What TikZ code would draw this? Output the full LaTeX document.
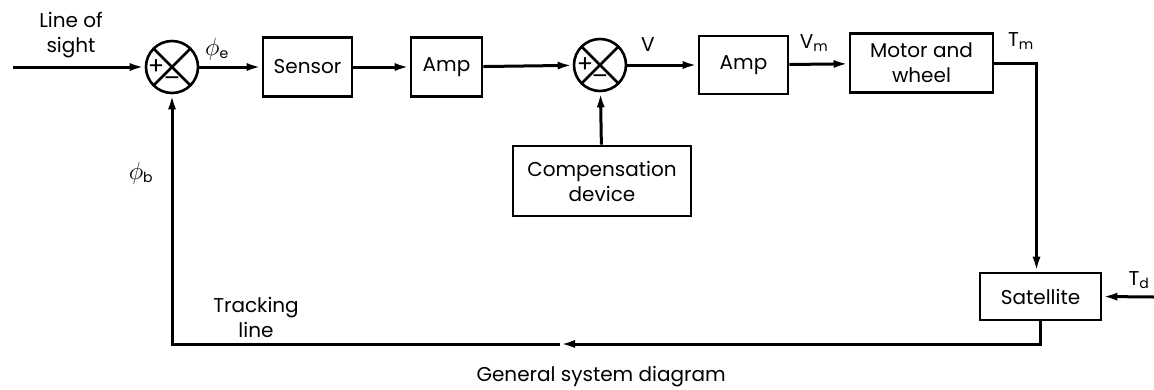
\documentclass[tikz,border=0pt]{standalone}
\usepackage{fontspec}
\setmainfont{Poppins}
\usetikzlibrary{arrows.meta}

\begin{document}
\begin{tikzpicture}[x=1pt,y=-1pt,font=\fontsize{20}{25}\selectfont,
  line width=3pt,
  blk/.style={draw,line width=2.6pt,minimum height=59pt,inner sep=0pt,align=center},
  sumpt/.style={draw,circle,line width=2.6pt,minimum size=52pt,inner sep=0pt,
    path picture={\draw[line width=2.6pt]
      (path picture bounding box.south west) -- (path picture bounding box.north east)
      (path picture bounding box.north west) -- (path picture bounding box.south east);}},
  sig/.style={-{Latex[length=15pt,width=8pt]}},
  lbl/.style={inner sep=0pt,align=center},
  sgn/.style={lbl,font=\fontsize{24}{24}\selectfont}]
  \useasboundingbox (0,0) rectangle (1154,389);

  % summing points
  \node[sumpt] (s1) at (172,67) {};
  \node[sgn] at ([xshift=-16pt]s1.center) {+};
  \node[sgn] at ([yshift=-15pt]s1.center) {--};
  \node[sumpt] (s2) at (600,65) {};
  \node[sgn] at ([xshift=-15pt]s2.center) {+};
  \node[sgn] at ([yshift=-15pt]s2.center) {--};

  % blocks
  \node[blk,minimum width=89pt] (sensor) at (307.5,67) {Sensor};
  \node[blk,minimum width=71pt] (amp1) at (446.5,67) {Amp};
  \node[blk,minimum width=89pt,minimum height=58pt] (amp2) at (743.5,65) {Amp};
  \node[blk,minimum width=143pt] (motor) at (921.5,63) {Motor and\\wheel};
  \node[blk,minimum width=178pt,minimum height=70pt] (comp) at (602,181) {Compensation\\device};
  \node[blk,minimum width=121pt,minimum height=47pt] (sat) at (1040.5,296.5) {Satellite};

  \coordinate (los) at (13,67);
  \coordinate (td) at (1154,297);
  \coordinate (fb) at (560,344);

  % signal lines
  \draw[sig] (los) -- (s1);
  \draw[sig] (s1) -- (sensor);
  \draw[sig] (sensor) -- (amp1);
  \draw[sig] (amp1) -- (s2);
  \draw[sig] (s2) -- (amp2);
  \draw[sig] (amp2) -- (motor);
  \draw[sig] (motor.east) -| ([xshift=-4pt]sat.north);
  \draw[sig] (td) -- (sat.east);
  \draw[sig] (comp) -- (s2);
  \draw[sig] (sat.south) |- (fb);
  \draw[sig] (fb) -| (s1.south);

  % labels
  \node[lbl] (los-l) at (71,35) {Line of\\sight};
  \node[lbl] (phie) at (217,49) {{\fontsize{27}{27}\selectfont$\phi$}\textsubscript{e}};
  \node[lbl] (phib) at (141,173) {{\fontsize{27}{27}\selectfont$\phi$}\textsubscript{b}};
  \node[lbl] (vlbl) at (648,45) {V};
  \node[lbl] (vm) at (814,43) {V\textsubscript{m}};
  \node[lbl] (tm) at (1021,41) {T\textsubscript{m}};
  \node[lbl] (tdl) at (1139,280) {T\textsubscript{d}};
  \node[lbl] (track) at (256,317) {Tracking\\line};
  \node[lbl,anchor=west] (cap) at (475,377) {General system diagram};
\end{tikzpicture}
\end{document}
